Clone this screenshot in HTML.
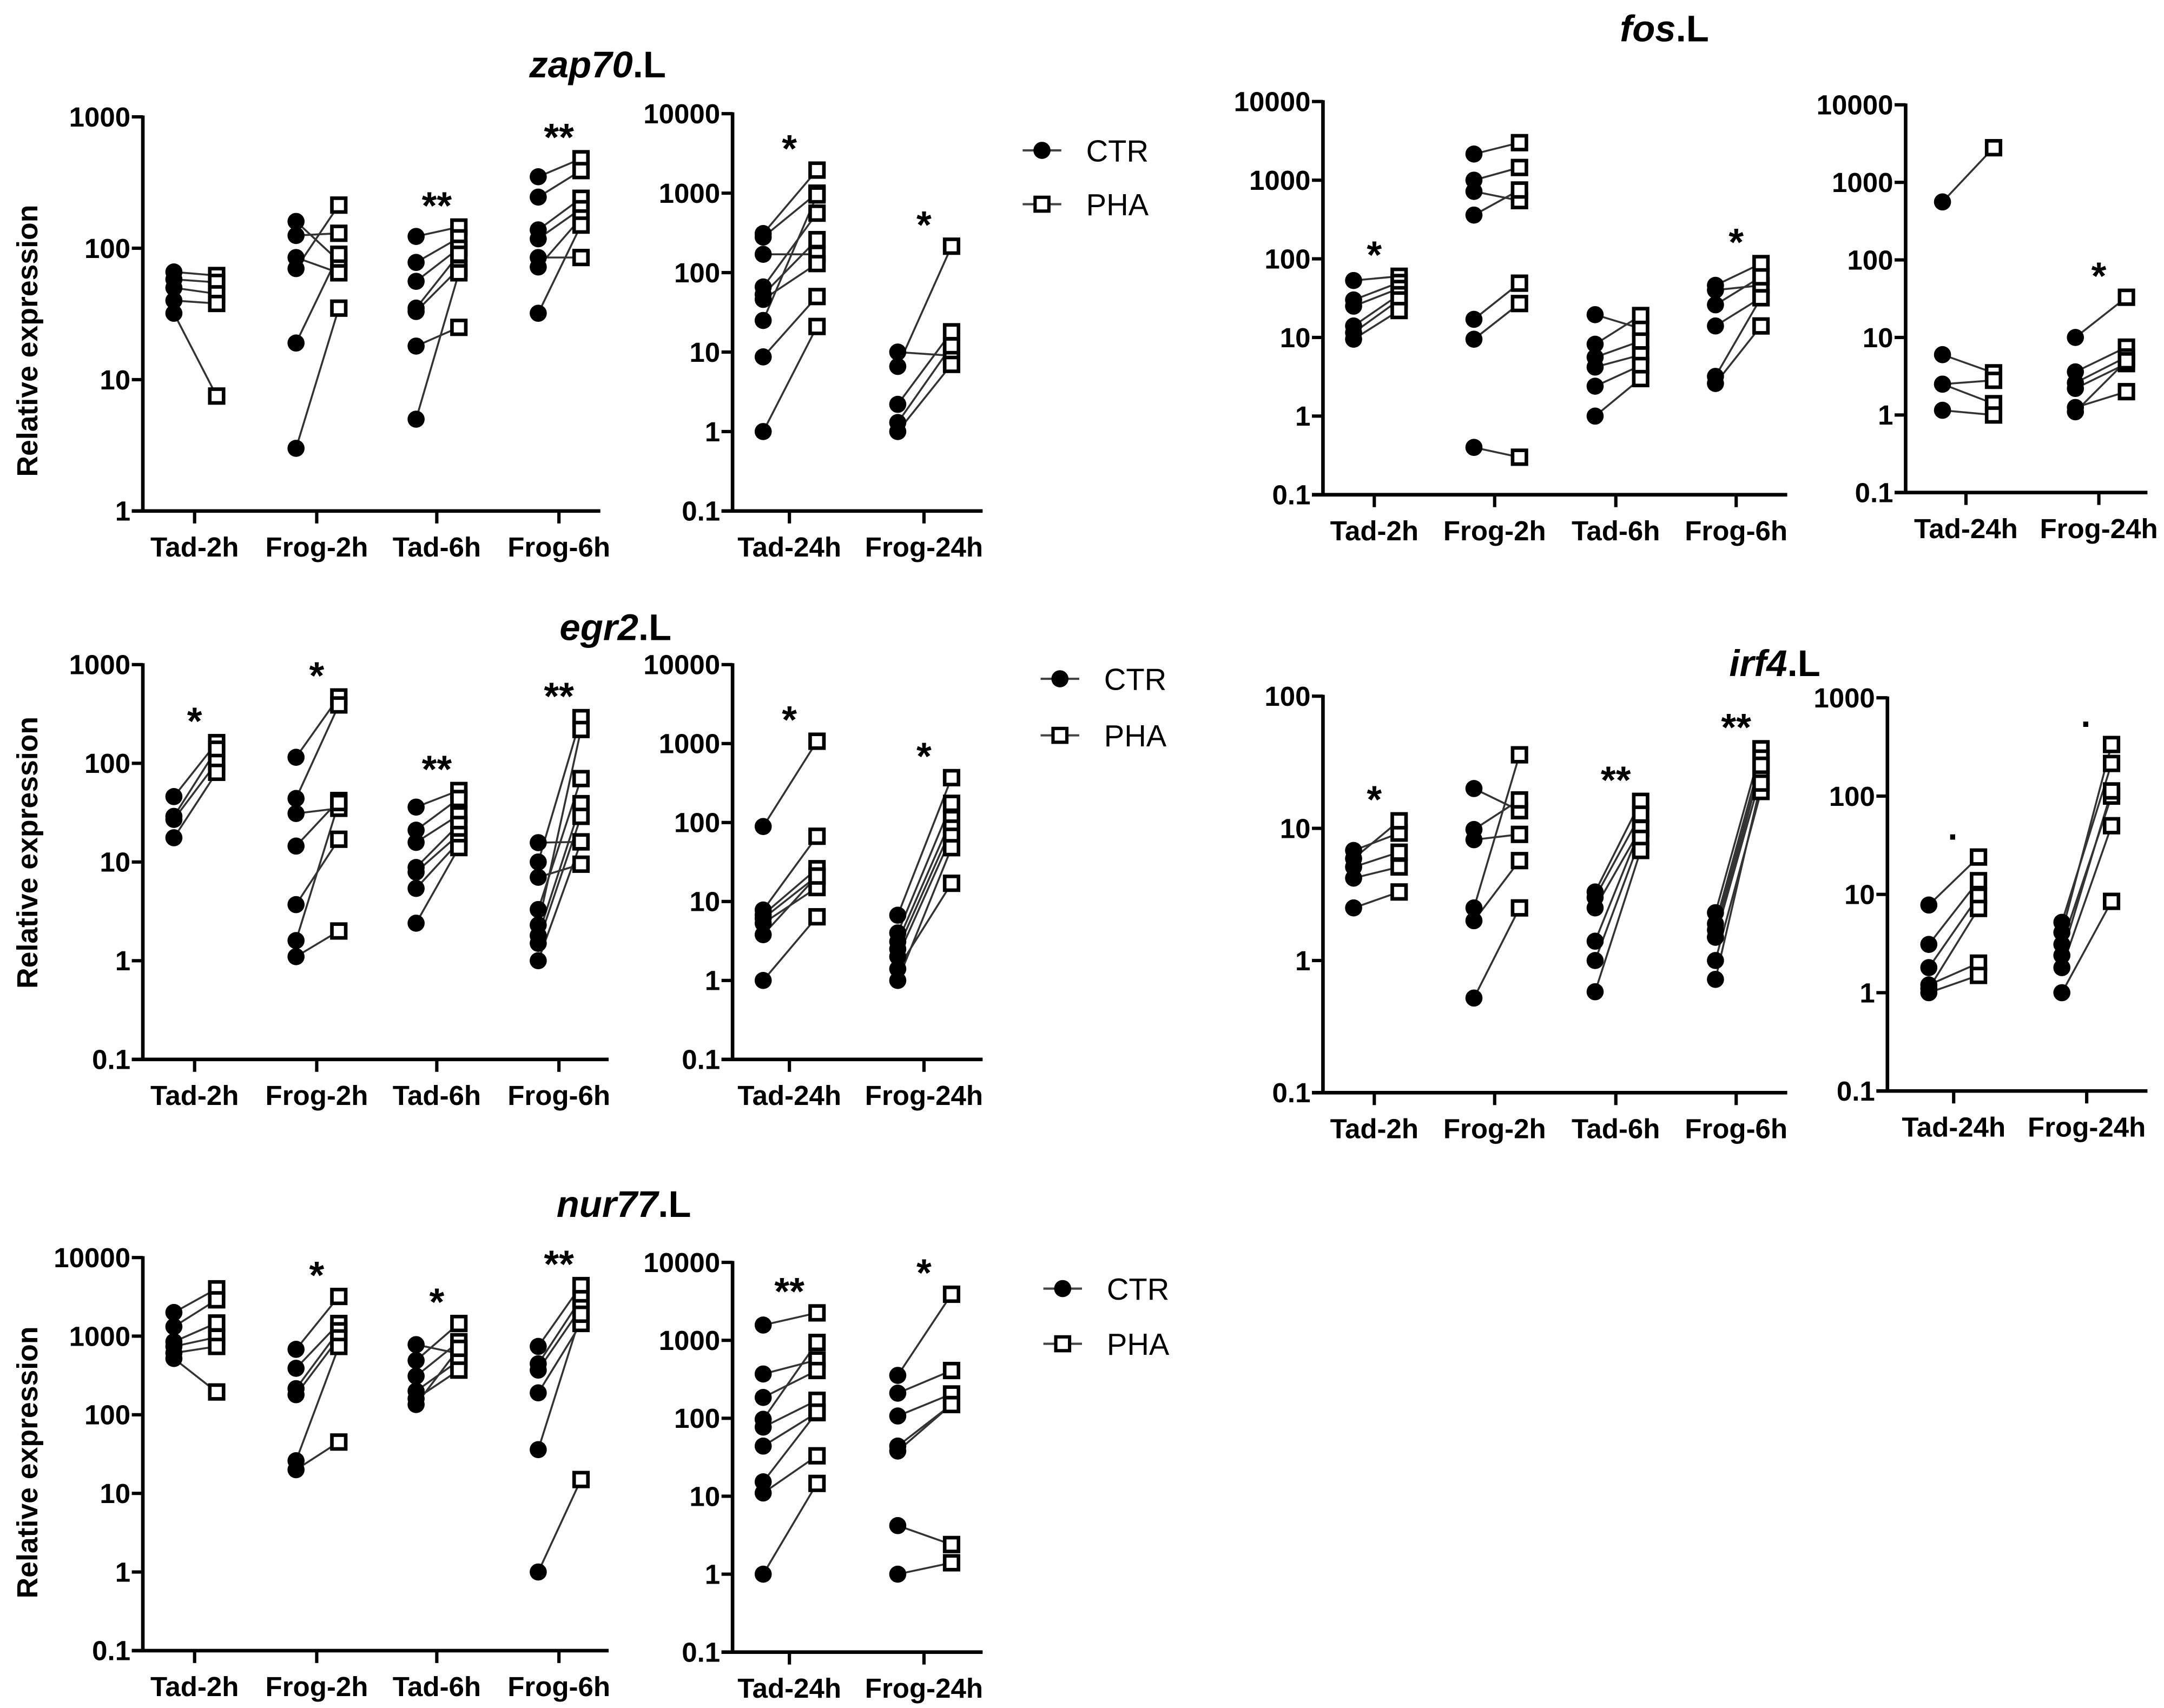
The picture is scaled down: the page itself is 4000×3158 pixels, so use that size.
<!DOCTYPE html>
<html><head><meta charset="utf-8">
<style>
html,body{margin:0;padding:0;background:#fff;}
svg{display:block;}
text{font-family:"Liberation Sans",Arial,sans-serif;}
</style></head>
<body>
<svg id="fig" xmlns="http://www.w3.org/2000/svg" width="4000" height="3158" viewBox="0 0 1568 1238" preserveAspectRatio="none">
<rect width="1568" height="1238" fill="#fff"/>
</svg>
<script>
// ---- data ----
const cats4 = ['Tad-2h','Frog-2h','Tad-6h','Frog-6h'];
const cats2 = ['Tad-24h','Frog-24h'];

const zapL_ctr = [[66,58,50,40,32],[160,125,85,70,19,3],[123,78,56,35,33,18,5],[350,245,138,118,85,72,32]];
const zapL_pha = [[62,55,45,38,7.5],[80,130,65,213,90,35],[145,120,100,90,70,25,65],[480,390,240,200,85,170,150]];
const zapL_sig = ['','','**','**'];
const zapR_ctr = [[310,280,170,66,53,46,25,8.7,1],[10,6.6,2.2,1.3,1]];
const zapR_pha = [[1950,1000,170,560,260,130,950,50,21],[9,215,18,12,7]];
const zapR_sig = ['*','*'];

const fosL_ctr = [[53,30,25,14,11.5,9.5],[2150,1000,720,360,17,9.5,0.4],[19.5,8.2,5.6,4.2,2.4,1],[46,40,26,14,3.2,2.6]];
const fosL_pha = [[60,50,42,35,30,22],[3000,1450,550,750,49,27,0.3],[13,19,9,6,4.4,3],[87,46,59,32,32,14]];
const fosL_sig = ['*','','','*'];
const fosR_ctr = [[560,6,2.5,2.5,1.15],[10,3.6,2.6,2.2,1.25,1.1]];
const fosR_pha = [[2800,3.5,2.8,1.4,1],[33,7.5,5.6,4.6,2,5]];
const fosR_sig = ['','*'];

const egrL_ctr = [[46,29,27,17.6],[115,44,31,14.5,3.7,1.6,1.1],[36,21,15.8,8.8,7.9,5.4,2.4],[15.7,10,7,3.3,2.3,1.8,1.5,1]];
const egrL_pha = [[162,139,102,81],[470,390,35,42,17,40,2],[53,44,30,24,19,16,14],[16,290,9.5,70,220,39,29,16]];
const egrL_sig = ['*','*','**','**'];
const egrR_ctr = [[89,7.8,6.8,6.1,5.3,3.8,1],[6.7,4,3.1,2.5,2,1.4,1]];
const egrR_pha = [[1070,67,26,21,15,21,6.4],[370,175,112,85,67,17,48]];
const egrR_sig = ['*','*'];

const irfL_ctr = [[6.8,5.9,5.1,4.2,2.5],[20,9.8,8.2,2.5,2,0.52],[3.3,3,2.5,1.4,1,0.58],[2.3,1.9,1.7,1.5,1.5,1,0.72]];
const irfL_pha = [[9.2,11.4,6.6,5.1,3.3],[13.6,16.4,9,36,5.7,2.5],[16,12.8,10,10,8.4,6.8],[40,34,30,25,30,19,22]];
const irfL_sig = ['*','','**','**'];
const irfR_ctr = [[7.8,3.1,1.8,1.2,1.1,1],[5.2,4.1,3.1,2.4,1.8,1]];
const irfR_pha = [[24,13.8,9.6,2,7.2,1.5],[215,335,100,113,50,8.5]];
const irfR_sig = ['.','.'];

const nurL_ctr = [[2000,1320,850,740,610,520],[680,390,215,180,26,20],[780,490,310,200,160,135],[740,445,370,190,36,1]];
const nurL_pha = [[4000,2900,1470,970,740,195],[3200,1450,1170,950,740,45],[600,1450,850,490,370,700],[4400,3000,2300,1450,1900,15]];
const nurL_sig = ['','*','*','**'];
const nurR_ctr = [[1570,370,185,97,77,44,15.3,11,1],[355,210,107,44,38,4.2,1]];
const nurR_pha = [[2250,560,410,940,170,118,120,33,14.6],[3900,410,205,150,150,2.4,1.4]];
const nurR_sig = ['**','*'];

const tickLabels = {'0.1':'0.1','1':'1','10':'10','100':'100','1000':'1000','10000':'10000'};

// ---- layout ----
const panels = [
 {name:'zap70-left', ax:103.5, xEnd:435, lo:1, hi:1000, y0:370.4, y1:84.7, cx:[141,229.5,316.5,405], d:[-15,16], cats:cats4, ctr:zapL_ctr, pha:zapL_pha, sig:zapL_sig},
 {name:'zap70-right', ax:530.8, xEnd:712, lo:0.1, hi:10000, y0:370.4, y1:82.4, cx:[572,669.5], d:[-19,20], cats:cats2, ctr:zapR_ctr, pha:zapR_pha, sig:zapR_sig},
 {name:'fos-left', ax:958.6, xEnd:1295, lo:0.1, hi:10000, y0:358.6, y1:73.6, cx:[995.8,1083,1170.8,1258], d:[-15,18], cats:cats4, ctr:fosL_ctr, pha:fosL_pha, sig:fosL_sig},
 {name:'fos-right', ax:1380.8, xEnd:1556, lo:0.1, hi:10000, y0:357, y1:76, cx:[1424.5,1520.8], d:[-17,20], cats:cats2, ctr:fosR_ctr, pha:fosR_pha, sig:fosR_sig},
 {name:'egr2-left', ax:103.5, xEnd:441, lo:0.1, hi:1000, y0:767.9, y1:481.7, cx:[141,229.5,316.5,405], d:[-15,16], cats:cats4, ctr:egrL_ctr, pha:egrL_pha, sig:egrL_sig},
 {name:'egr2-right', ax:530.8, xEnd:712, lo:0.1, hi:10000, y0:767.9, y1:481.7, cx:[572,669.5], d:[-19,20], cats:cats2, ctr:egrR_ctr, pha:egrR_pha, sig:egrR_sig},
 {name:'irf4-left', ax:958.6, xEnd:1295, lo:0.1, hi:100, y0:792, y1:504.6, cx:[995.8,1083,1170.8,1258], d:[-15,18], cats:cats4, ctr:irfL_ctr, pha:irfL_pha, sig:irfL_sig},
 {name:'irf4-right', ax:1367.6, xEnd:1556, lo:0.1, hi:1000, y0:790.8, y1:505.8, cx:[1415.6,1512], d:[-18,18], cats:cats2, ctr:irfR_ctr, pha:irfR_pha, sig:irfR_sig},
 {name:'nur77-left', ax:103.5, xEnd:441, lo:0.1, hi:10000, y0:1196.4, y1:911.5, cx:[141,229.5,316.5,405], d:[-15,16], cats:cats4, ctr:nurL_ctr, pha:nurL_pha, sig:nurL_sig},
 {name:'nur77-right', ax:530.8, xEnd:712, lo:0.1, hi:10000, y0:1197.5, y1:915, cx:[572,669.5], d:[-19,20], cats:cats2, ctr:nurR_ctr, pha:nurR_pha, sig:nurR_sig}
];

const NS = 'http://www.w3.org/2000/svg';
const svg = document.getElementById('fig');
function mk(tag, attrs, parent){
  const e = document.createElementNS(NS, tag);
  for (const k in attrs) e.setAttribute(k, attrs[k]);
  (parent||svg).appendChild(e);
  return e;
}

panels.forEach(p => {
  const g = mk('g', {});
  
  
  const L0 = Math.log10(p.lo), L1 = Math.log10(p.hi);
  const ys = v => p.y0 - (Math.log10(v) - L0) / (L1 - L0) * (p.y0 - p.y1);
  // axes
  const ya = mk('line', {x1:p.ax, y1:p.y1-1, x2:p.ax, y2:p.y0, stroke:'#000', 'stroke-width':2.6}, g);
  
  
  const xa = mk('line', {x1:p.ax-8, y1:p.y0, x2:p.xEnd, y2:p.y0, stroke:'#000', 'stroke-width':2.6}, g);
  
  
  for (let e = L0; e <= L1 + 1e-9; e++) {
    const v = Math.pow(10, e);
    const y = ys(v);
    mk('line', {x1:p.ax-8, y1:y, x2:p.ax, y2:y, stroke:'#000', 'stroke-width':2.4}, g);
    const key = e < 0 ? '0.1' : String(Math.round(v));
    const t = mk('text', {x:p.ax-9, y:y+7, 'font-size':20, 'font-weight':'bold', 'text-anchor':'end', fill:'#000'}, g);
    t.textContent = tickLabels[key];
    
    
  }
  p.cats.forEach((c, i) => {
    const x = p.cx[i];
    mk('line', {x1:x, y1:p.y0, x2:x, y2:p.y0+9, stroke:'#000', 'stroke-width':2.4}, g);
    const t = mk('text', {x:x, y:p.y0+33, 'font-size':20, 'font-weight':'bold', 'text-anchor':'middle', fill:'#000'}, g);
    t.textContent = c;
    
    
    // pairs
    const ctr = p.ctr[i], pha = p.pha[i];
    const xc = x + p.d[0], xp = x + p.d[1];
    ctr.forEach((v, j) => {
      if (pha[j] === undefined) return;
      const ln = mk('line', {x1:xc, y1:ys(v), x2:xp, y2:ys(pha[j]), stroke:'#333', 'stroke-width':1.4}, g);
      
      
    });
    ctr.forEach(v => {
      const c1 = mk('circle', {cx:xc, cy:ys(v), r:6.2, fill:'#000'}, g);
      
      
    });
    pha.forEach(v => {
      const s = mk('rect', {x:xp-5, y:ys(v)-5, width:10, height:10, fill:'#fff', stroke:'#000', 'stroke-width':2.6}, g);
      
      
    });
    const sg = p.sig[i];
    if (sg) {
      const mx = Math.max(...ctr, ...pha);
      const st = mk('text', {x:x, y:ys(mx)-6, 'font-size': sg === '.' ? 26 : 28, 'font-weight':'bold', 'text-anchor':'middle', fill:'#000'}, g);
      st.textContent = sg === '.' ? '·' : sg;
      
      
    }
  });
});

// titles
const titles = [
  {gene:'zap70', x:433, y:56}, {gene:'fos', x:1206, y:30}, {gene:'egr2', x:446, y:464},
  {gene:'irf4', x:1286, y:490}, {gene:'nur77', x:452, y:882}
];
titles.forEach(t => {
  const el = mk('text', {x:t.x, y:t.y, 'font-size':27, 'font-weight':'bold', 'text-anchor':'middle', fill:'#000'});
  const a = mk('tspan', {'font-style':'italic'}, el); a.textContent = t.gene;
  const b = mk('tspan', {}, el); b.textContent = '.L';
  
  
});

// y-axis titles
[247, 618, 1060].forEach(cy => {
  const el = mk('text', {x:0, y:0, 'font-size':21, 'font-weight':'bold', 'text-anchor':'middle', fill:'#000', transform:'translate(27,'+cy+') rotate(-90)'});
  el.textContent = 'Relative expression';
  
  
});

// legends
const legends = [
  {x:741, y1:109, y2:148}, {x:754, y1:492, y2:533}, {x:756, y1:934, y2:974}
];
legends.forEach(l => {
  const g = mk('g', {});
  
  
  const e1 = mk('g', {}, g);
  
  
  mk('line', {x1:l.x, y1:l.y1, x2:l.x+28, y2:l.y1, stroke:'#444', 'stroke-width':1.6}, e1);
  mk('circle', {cx:l.x+14, cy:l.y1, r:6.2, fill:'#000'}, e1);
  const t1 = mk('text', {x:l.x+46, y:l.y1+8, 'font-size':22, fill:'#000'}, e1); t1.textContent = 'CTR';
  const e2 = mk('g', {}, g);
  
  
  mk('line', {x1:l.x, y1:l.y2, x2:l.x+28, y2:l.y2, stroke:'#444', 'stroke-width':1.6}, e2);
  mk('rect', {x:l.x+9, y:l.y2-5, width:10, height:10, fill:'#fff', stroke:'#000', 'stroke-width':2.4}, e2);
  const t2 = mk('text', {x:l.x+46, y:l.y2+8, 'font-size':22, fill:'#000'}, e2); t2.textContent = 'PHA';
});
</script>
</body></html>
